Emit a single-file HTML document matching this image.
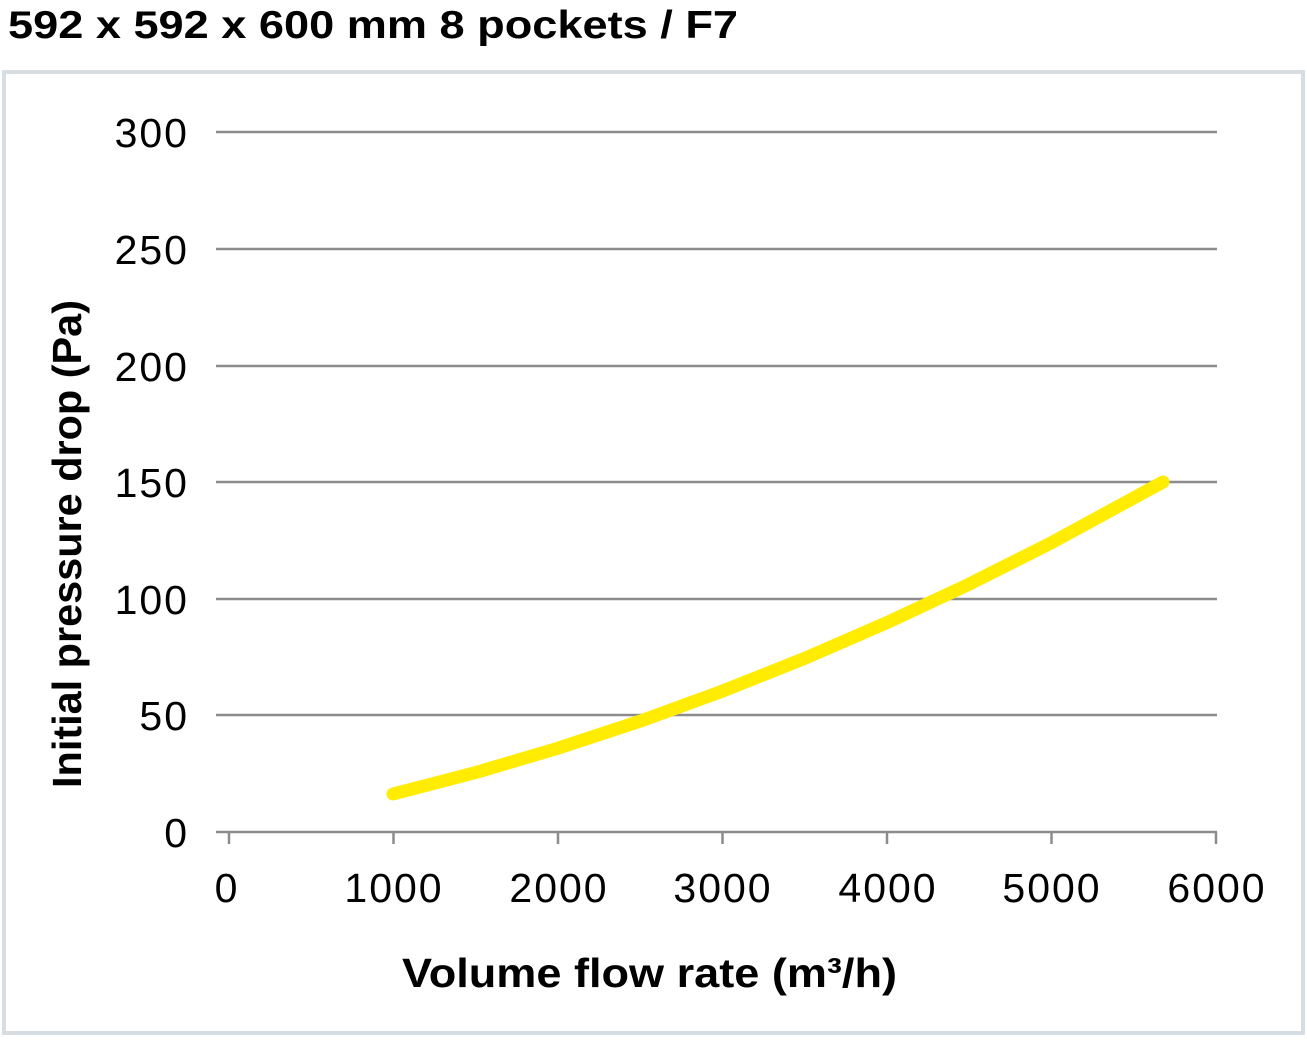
<!DOCTYPE html>
<html><head><meta charset="utf-8"><style>
body{margin:0;background:#fff;width:1307px;height:1039px;overflow:hidden}
</style></head><body>
<svg width="1307" height="1039" viewBox="0 0 1307 1039" xmlns="http://www.w3.org/2000/svg" font-family="Liberation Sans, Arial, sans-serif">
<text x="8" y="38" font-size="39" font-weight="bold" fill="#000" textLength="730" lengthAdjust="spacingAndGlyphs">592 x 592 x 600 mm 8 pockets / F7</text>
<rect x="4" y="72" width="1299" height="961" fill="none" stroke="#d6dee4" stroke-width="4"/>
<g stroke="#8c8c8c" stroke-width="2.5">
<line x1="216" y1="132" x2="1217" y2="132"/>
<line x1="216" y1="249" x2="1217" y2="249"/>
<line x1="216" y1="366" x2="1217" y2="366"/>
<line x1="216" y1="482" x2="1217" y2="482"/>
<line x1="216" y1="599" x2="1217" y2="599"/>
<line x1="216" y1="715" x2="1217" y2="715"/>
<line x1="216" y1="832" x2="1217" y2="832"/>
<line x1="229" y1="832" x2="229" y2="844"/>
<line x1="393.5" y1="832" x2="393.5" y2="844"/>
<line x1="558" y1="832" x2="558" y2="844"/>
<line x1="722.5" y1="832" x2="722.5" y2="844"/>
<line x1="887" y1="832" x2="887" y2="844"/>
<line x1="1051.5" y1="832" x2="1051.5" y2="844"/>
<line x1="1216" y1="832" x2="1216" y2="844"/>
</g>
<g font-size="41" fill="#000" text-anchor="end" letter-spacing="2">
<text x="189" y="147">300</text>
<text x="189" y="264">250</text>
<text x="189" y="381">200</text>
<text x="189" y="497">150</text>
<text x="189" y="614">100</text>
<text x="189" y="730">50</text>
<text x="189" y="847">0</text>
</g>
<g font-size="41" fill="#000" text-anchor="middle" letter-spacing="2">
<text x="227" y="902">0</text>
<text x="394" y="902">1000</text>
<text x="559" y="902">2000</text>
<text x="723" y="902">3000</text>
<text x="888" y="902">4000</text>
<text x="1052" y="902">5000</text>
<text x="1217" y="902">6000</text>
</g>
<text x="402" y="987" font-size="41" font-weight="bold" textLength="495" lengthAdjust="spacingAndGlyphs">Volume flow rate (m³/h)</text>
<text transform="translate(81,788) rotate(-90)" font-size="41" font-weight="bold" textLength="488" lengthAdjust="spacingAndGlyphs">Initial pressure drop (Pa)</text>
<polyline fill="none" stroke="#ffec00" stroke-width="13" stroke-linecap="round" stroke-linejoin="round"
points="393,794 475.8,772.5 558,748.2 640.3,721.1 722.5,691.1 804.8,658.3 887,622.6 969.3,584.1 1051.5,542.7 1163,482"/>
</svg>
</body></html>
